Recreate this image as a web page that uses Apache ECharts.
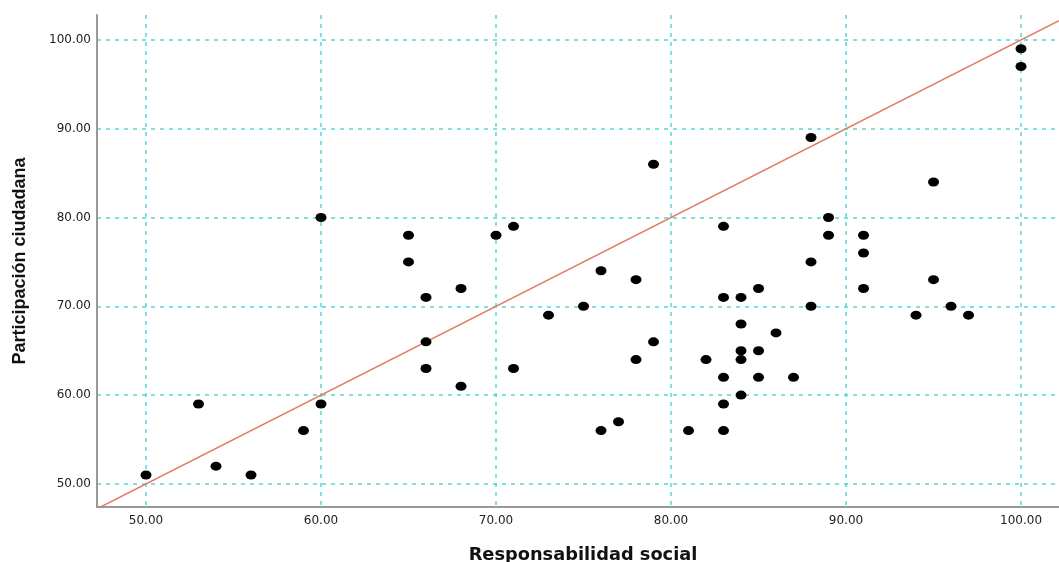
<!DOCTYPE html>
<html>
<head>
<meta charset="utf-8">
<script src="https://cdn.jsdelivr.net/npm/echarts@6/dist/echarts.min.js"></script>
<style>
html,body{margin:0;padding:0;background:#fff;}
#c{width:1059px;height:562px;}
</style>
</head>
<body>
<div id="c"></div>
<script>
var responsabilidad = [50,53,54,56,59,60,60,65,65,66,66,66,68,68,70,71,71,73,75,76,76,77,78,78,79,79,81,82,83,83,83,83,83,84,84,84,84,84,85,85,85,86,87,88,88,88,89,89,91,91,91,94,95,95,96,97,100,100];
var participacion = [51,59,52,51,56,59,80,78,75,71,66,63,72,61,78,79,63,69,70,74,56,57,73,64,86,66,56,64,79,71,62,59,56,71,68,65,64,60,72,65,62,67,62,89,75,70,80,78,78,76,72,69,84,73,70,69,99,97];
var tickValues = [50,60,70,80,90,100];
var xRange = [47.2, 102.17];
var yRange = [47.4, 102.8];
var refLine = [[xRange[0], xRange[0]], [xRange[1], xRange[1]]];

var pts = responsabilidad.map(function(v,i){return [v, participacion[i]];});
var fmt = function(v){return v.toFixed(2);};
var grid = {show:true, lineStyle:{color:'#55d6d6', width:1.5, type:[4,5]}};
var chart = echarts.init(document.getElementById('c'));
chart.setOption({
  animation:false,
  backgroundColor:'#fff',
  grid:{left:97, right:0, top:15, bottom:55, containLabel:false, outerBoundsMode:'none'},
  xAxis:{
    type:'value', min:xRange[0], max:xRange[1],
    name:'Responsabilidad social', nameLocation:'middle', nameGap:39,
    nameTextStyle:{fontFamily:'DejaVu Sans', fontSize:17.8, fontWeight:'bold', color:'#111', padding:[0,0,0,10]},
    axisLine:{show:true, onZero:false, lineStyle:{color:'#999', width:2}},
    axisTick:{show:false, customValues:tickValues},
    axisLabel:{customValues:tickValues, formatter:fmt, fontFamily:'DejaVu Sans', fontSize:12, color:'#222', margin:8},
    splitLine:grid
  },
  yAxis:{
    type:'value', min:yRange[0], max:yRange[1],
    name:'Participación ciudadana', nameLocation:'middle', nameGap:68, nameRotate:90,
    nameTextStyle:{fontFamily:'Liberation Sans', fontSize:18, fontWeight:'bold', color:'#111'},
    axisLine:{show:true, onZero:false, lineStyle:{color:'#999', width:2}},
    axisTick:{show:false, customValues:tickValues},
    axisLabel:{customValues:tickValues, formatter:fmt, fontFamily:'DejaVu Sans', fontSize:12, color:'#222', margin:6},
    splitLine:grid
  },
  series:[
    {type:'line', data:refLine, symbol:'none', lineStyle:{color:'#e07a60', width:1.5}, z:1, silent:true},
    {type:'scatter', data:pts, symbol:'circle', symbolSize:[11,9], itemStyle:{color:'#000', opacity:1}, z:3}
  ]
});
</script>
</body>
</html>
